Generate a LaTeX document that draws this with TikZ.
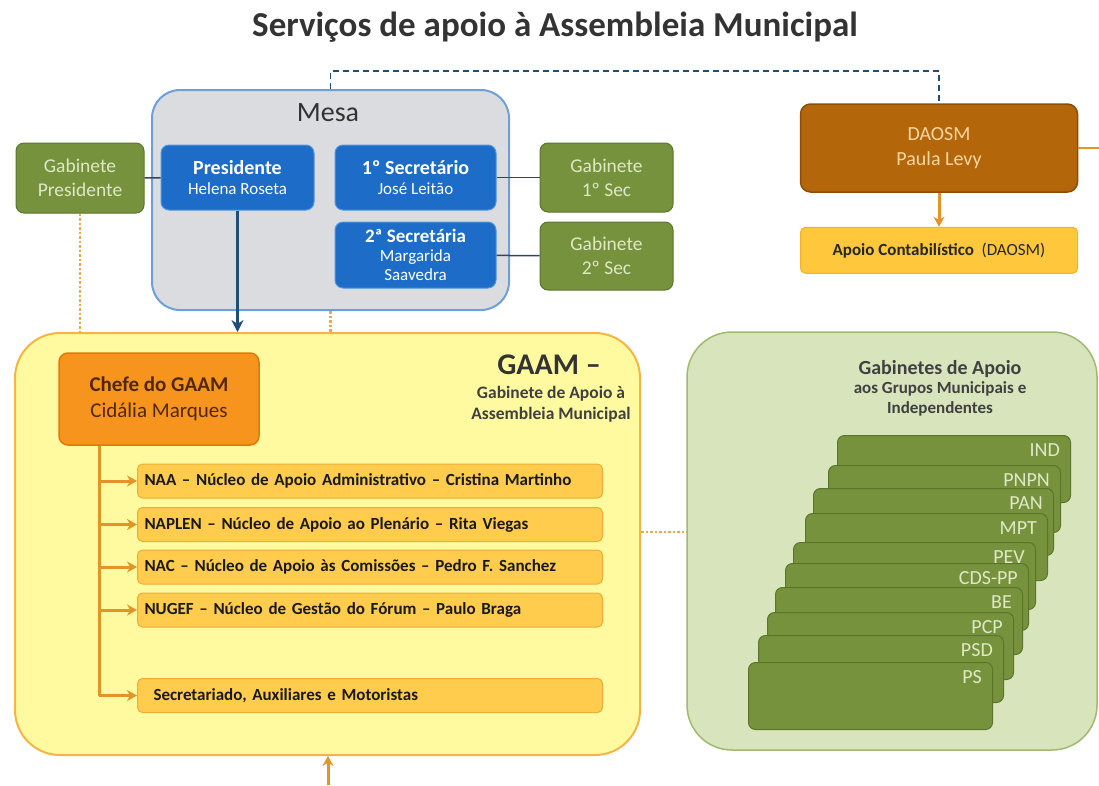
\documentclass[tikz,border=0pt]{standalone}
\usepackage{fontspec}
\setmainfont{Carlito}
\usetikzlibrary{positioning, arrows.meta, calc}
\definecolor{mesagray}{RGB}{218,220,224}
\definecolor{mesaedge}{RGB}{110,160,215}
\definecolor{presblue}{RGB}{28,108,200}
\definecolor{presedge}{RGB}{80,150,225}
\definecolor{gabgrn}{RGB}{118,146,60}
\definecolor{gabedge}{RGB}{92,116,44}
\definecolor{gabtxt}{RGB}{222,232,198}
\definecolor{daobrn}{RGB}{180,102,10}
\definecolor{daoedge}{RGB}{138,78,8}
\definecolor{daotxt}{RGB}{250,215,160}
\definecolor{contgold}{RGB}{255,200,60}
\definecolor{contedge}{RGB}{245,178,40}
\definecolor{gaamyel}{RGB}{255,250,160}
\definecolor{gaamedge}{RGB}{245,180,70}
\definecolor{chefeorg}{RGB}{247,148,30}
\definecolor{chefeedge}{RGB}{225,120,10}
\definecolor{chefetxt}{RGB}{80,40,0}
\definecolor{nucgold}{RGB}{255,204,77}
\definecolor{nucedge}{RGB}{238,172,50}
\definecolor{grplight}{RGB}{216,228,188}
\definecolor{grpedge}{RGB}{160,186,112}
\definecolor{arrorg}{RGB}{226,148,38}
\definecolor{linkblue}{RGB}{31,78,121}
\definecolor{linkgray}{RGB}{50,70,95}
\tikzset{
  mesabox/.style  = {draw=mesaedge, line width=2pt, fill=mesagray,
                     rounded corners=28pt, minimum width=357pt,
                     minimum height=220pt},
  presbox/.style  = {draw=presedge, line width=1pt, fill=presblue,
                     rounded corners=8pt, text=white, align=center,
                     minimum width=158pt, font=\fontsize{17}{20}\selectfont},
  gabbox/.style   = {draw=gabedge, line width=1pt, fill=gabgrn,
                     rounded corners=8pt, text=gabtxt, align=center,
                     font=\fontsize{19.5}{24}\selectfont},
  daosmbox/.style = {draw=daoedge, line width=1.5pt, fill=daobrn,
                     rounded corners=10pt, text=daotxt, align=center,
                     minimum width=277pt, minimum height=88pt,
                     font=\fontsize{20}{25}\selectfont},
  contbox/.style  = {draw=contedge, line width=1pt, fill=contgold,
                     rounded corners=5pt, text=black!85, align=center,
                     minimum width=277pt, minimum height=46pt,
                     font=\fontsize{17}{20}\selectfont},
  gaambox/.style  = {draw=gaamedge, line width=2pt, fill=gaamyel,
                     rounded corners=45pt, minimum width=625pt,
                     minimum height=422pt},
  chefebox/.style = {draw=chefeedge, line width=1.5pt, fill=chefeorg,
                     rounded corners=9pt, text=chefetxt, align=center,
                     minimum width=200pt, minimum height=92pt,
                     font=\fontsize{21}{26}\selectfont},
  nucbox/.style   = {draw=nucedge, line width=1pt, fill=nucgold,
                     rounded corners=5pt, text=black!90, anchor=west,
                     text width=451pt, align=left, inner xsep=7pt,
                     minimum height=34pt,
                     font=\fontsize{17}{20}\selectfont\bfseries},
  grupbox/.style  = {draw=grpedge, line width=1.5pt, fill=grplight,
                     rounded corners=45pt, minimum width=410pt,
                     minimum height=418pt},
  partybox/.style = {draw=gabedge, line width=1pt, fill=gabgrn,
                     rounded corners=7pt, anchor=north west,
                     minimum height=67pt},
  partylbl/.style = {anchor=east, text=gabtxt, inner sep=0pt,
                     font=\fontsize{20}{22}\selectfont},
  linkline/.style = {line width=1.5pt, linkgray},
  presarr/.style  = {-{Stealth[length=12pt, width=12pt]}, line width=3pt,
                     linkblue},
  orgline/.style  = {line width=3pt, arrorg},
  orgarr/.style   = {-{Stealth[length=10pt, width=11pt]}, line width=3pt,
                     arrorg},
  dotline/.style  = {line width=2.5pt, arrorg!80, dotted},
  dashline/.style = {line width=1.5pt, linkblue, dash pattern=on 6pt off 4pt},
}
\begin{document}
\begin{tikzpicture}[x=1pt, y=-1pt]
  \useasboundingbox (0,0) rectangle (1099,785);

  \node[font=\fontsize{35}{40}\selectfont\bfseries, text=black!80] (title)
    at (555,27) {Serviços de apoio à Assembleia Municipal};

  % big frames
  \node[gaambox] (gaam) at (327.5,544) {};
  \node[grupbox] (gabapoio) at (892,541) {};
  \node[mesabox] (mesa) at (330.5,200) {};

  % Mesa
  \node[font=\fontsize{28}{30}\selectfont, text=black!80] (mesatxt)
    at (328,113) {Mesa};
  \node[presbox, minimum width=153pt, minimum height=65pt] (pres)
    at (237.5,177.5) {{\fontsize{20}{22}\selectfont\bfseries Presidente}\\Helena Roseta};
  \node[presbox, minimum width=161pt, minimum height=65pt] (sec1)
    at (415.5,177.5) {{\fontsize{20}{22}\selectfont\bfseries 1º Secretário}\\José Leitão};
  \node[presbox, minimum width=161pt, minimum height=66pt,
        font=\fontsize{17}{19}\selectfont] (sec2)
    at (415.5,255) {{\fontsize{19}{21}\selectfont\bfseries 2ª Secretária}\\Margarida\\Saavedra};

  \node[gabbox, minimum width=128pt, minimum height=70pt] (gabpres)
    at (80,178) {Gabinete\\Presidente};
  \node[gabbox, minimum width=133pt, minimum height=69pt] (gab1)
    at (606.5,177.5) {Gabinete\\1º Sec};
  \node[gabbox, minimum width=133pt, minimum height=68pt] (gab2)
    at (606.5,256) {Gabinete\\2º Sec};

  % DAOSM
  \node[daosmbox] (daosm) at (939,148) {DAOSM\\Paula Levy};
  \node[contbox, below=34pt of daosm] (conta)
    {\textbf{Apoio Contabilístico}\ \ (DAOSM)};
  \coordinate (edge) at (1099,148);

  % GAAM
  \node[font=\fontsize{30}{32}\selectfont\bfseries, text=black!80] (gaamtxt)
    at (549,365) {GAAM –};
  \node[font=\fontsize{17.5}{21}\selectfont\bfseries, text=black!75,
        align=center] (gaamsub)
    at (551,404) {Gabinete de Apoio à\\Assembleia Municipal};
  \node[chefebox] (chefe) at (159,399)
    {\textbf{Chefe do GAAM}\\Cidália Marques};
  \node[nucbox] (naa)    at (137,481)
    {NAA – Núcleo de Apoio Administrativo – Cristina Martinho};
  \node[nucbox] (naplen) at (137,524.5)
    {NAPLEN – Núcleo de Apoio ao Plenário – Rita Viegas};
  \node[nucbox] (nac)    at (137,567)
    {NAC – Núcleo de Apoio às Comissões – Pedro F. Sanchez};
  \node[nucbox] (nugef)  at (137,610)
    {NUGEF – Núcleo de Gestão do Fórum – Paulo Braga};
  \node[nucbox] (secr)   at (137,695.5)
    {\hspace*{9pt}Secretariado, Auxiliares e Motoristas};
  \coordinate (trunk) at ([xshift=-60pt]chefe.south);
  \coordinate (below) at (328,785);

  % Gabinetes de apoio aos grupos
  \node[font=\fontsize{17}{19.5}\selectfont\bfseries, text=black!75,
        align=center] (grptxt)
    at (940,388) {{\fontsize{20}{22}\selectfont Gabinetes de Apoio}\\aos Grupos Municipais e\\Independentes};
  \foreach \n/\t/\l/\r/\lab in {ind/435/837/1070/IND, pnpn/465/828/1060/PNPN,
      pan/488/813/1053/PAN, mpt/513/805/1047/MPT, pev/542/793/1035/PEV,
      cds/563/785/1028/CDS-PP, be/587/775/1022/BE, pcp/612/767/1013/PCP,
      psd/635/758/1003/PSD, ps/662/748/992/PS} {
    \pgfmathsetmacro{\w}{\r-\l}
    \node[partybox, minimum width=\w pt] (\n) at (\l,\t) {};
    \node[partylbl] (\n-lbl) at ([xshift=-11pt, yshift=-15pt]\n.north east) {\lab};
  }

  % connectors
  \draw[linkline] (gabpres) -- (pres);
  \draw[linkline] (sec1) -- (gab1);
  \draw[linkline] (sec2) -- (gab2);
  \draw[presarr] (pres.south) -- (pres.south |- gaam.north);
  \draw[dotline] (gabpres.south) -- (gabpres.south |- gaam.north);
  \draw[dotline] (mesa.south) -- (mesa.south |- gaam.north);
  \draw[dashline] (mesa.north) -- ++(0,-18) -| (daosm.north);
  \draw[orgline, line width=2pt] (daosm.east) -- (edge);
  \draw[orgarr] (daosm) -- (conta);
  \draw[orgline] (trunk) -- (trunk |- secr.west);
  \foreach \b in {naa, naplen, nac, nugef, secr}
    \draw[orgarr] (trunk |- \b.west) -- (\b.west);
  \draw[dotline] ([yshift=12pt]gaam.east) -- ([yshift=12pt]gaam.east -| gabapoio.west);
  \draw[orgarr] (below) -- (below |- gaam.south);
\end{tikzpicture}
\end{document}
